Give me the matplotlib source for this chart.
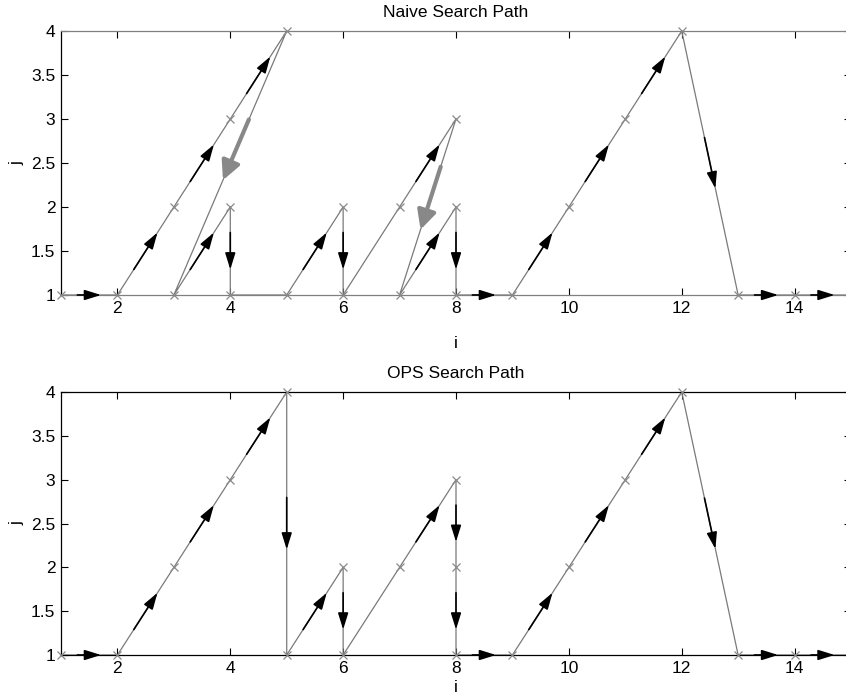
import numpy as np
import matplotlib
matplotlib.use("Agg")
import matplotlib.pyplot as plt

plt.rcParams['font.family'] = ['Liberation Sans', 'DejaVu Sans']

# search paths: (i, j) visited in order, and how each step is drawn
# 'f' = forward step (black arrow), 'b' = backtrack (grey arrow), 'n' = plain line
naive_i = [1, 2, 3, 4, 5, 3, 4, 4, 5, 6, 6, 7, 8, 7, 8, 8, 9, 10, 11, 12, 13, 14, 15]
naive_j = [1, 1, 2, 3, 4, 1, 2, 1, 1, 2, 1, 2, 3, 1, 2, 1, 1, 2, 3, 4, 1, 1, 1]
naive_step = ['f', 'f', 'f', 'f', 'b', 'f', 'f', 'n', 'f', 'f', 'n',
              'f', 'b', 'f', 'f', 'f', 'f', 'f', 'f', 'f', 'f', 'f']

ops_i = [1, 2, 3, 4, 5, 5, 6, 6, 7, 8, 8, 8, 9, 10, 11, 12, 13, 14, 15]
ops_j = [1, 1, 2, 3, 4, 1, 2, 1, 2, 3, 2, 1, 1, 2, 3, 4, 1, 1, 1]
ops_step = ['f', 'f', 'f', 'f', 'f', 'f', 'f', 'n', 'f', 'f', 'f',
            'f', 'f', 'f', 'f', 'f', 'f', 'f']

xticks = [2, 4, 6, 8, 10, 12, 14]
yticks = [1, 1.5, 2, 2.5, 3, 3.5, 4]
ytick_labels = ['1', '1.5', '2', '2.5', '3', '3.5', '4']

FS = 12.5


def setup_axes(ax, title, spine_col):
    ax.set_xlim(1, 15)
    ax.set_ylim(1, 4)
    ax.set_xticks(xticks)
    ax.set_xticklabels([str(t) for t in xticks])
    ax.set_yticks(yticks)
    ax.set_yticklabels(ytick_labels)
    ax.tick_params(direction='in', top=True, right=True, length=5, width=0.8,
                   labelsize=FS, pad=4)
    for s in ax.spines.values():
        s.set_linewidth(0.9)
    ax.spines['top'].set_color(spine_col)
    ax.spines['bottom'].set_color(spine_col)
    ax.set_title(title, fontsize=FS, pad=10)
    ax.set_ylabel('j', fontsize=FS, labelpad=5)


def draw_path(ax, xs, ys, steps):
    ax.plot(xs, ys, color='#7a7a7a', lw=0.9, clip_on=False, zorder=2)
    ax.plot(xs, ys, 'x', color='#8a8a8a', ms=6, mew=0.9, clip_on=False, zorder=3)
    for k, kind in enumerate(steps):
        if kind == 'n':
            continue
        p0 = np.array([xs[k], ys[k]], float)
        p1 = np.array([xs[k + 1], ys[k + 1]], float)
        d0 = ax.transData.transform(p0)
        d1 = ax.transData.transform(p1)
        seglen = np.hypot(*(d1 - d0))
        if kind == 'f':
            c, L = 0.5, min(0.42 * seglen, 52)
            props = dict(arrowstyle='-|>,head_length=0.9,head_width=0.28',
                         mutation_scale=11, color='black', lw=1.2,
                         shrinkA=0, shrinkB=0)
        else:
            c, L = 0.45, 66
            props = dict(arrowstyle='-|>,head_length=0.8,head_width=0.4',
                         mutation_scale=14, color='#888888', lw=3,
                         shrinkA=0, shrinkB=0)
        a = c - L / seglen / 2
        b = c + L / seglen / 2
        tail = p0 + a * (p1 - p0)
        tip = p0 + b * (p1 - p0)
        ax.annotate('', xy=tip, xytext=tail, arrowprops=props, zorder=4)


fig = plt.figure(figsize=(8.46, 7.0), dpi=100)
ax1 = fig.add_axes([61 / 846, 1 - 295 / 700, 790 / 846, 264 / 700])
ax2 = fig.add_axes([61 / 846, 1 - 655 / 700, 790 / 846, 263 / 700])

setup_axes(ax1, 'Naive Search Path', '#808080')
setup_axes(ax2, 'OPS Search Path', 'black')
ax1.set_xlabel('i', fontsize=FS, labelpad=15)
ax2.set_xlabel('i', fontsize=FS, labelpad=3.5)

draw_path(ax1, naive_i, naive_j, naive_step)
draw_path(ax2, ops_i, ops_j, ops_step)

fig.savefig('out.png', dpi=100)
